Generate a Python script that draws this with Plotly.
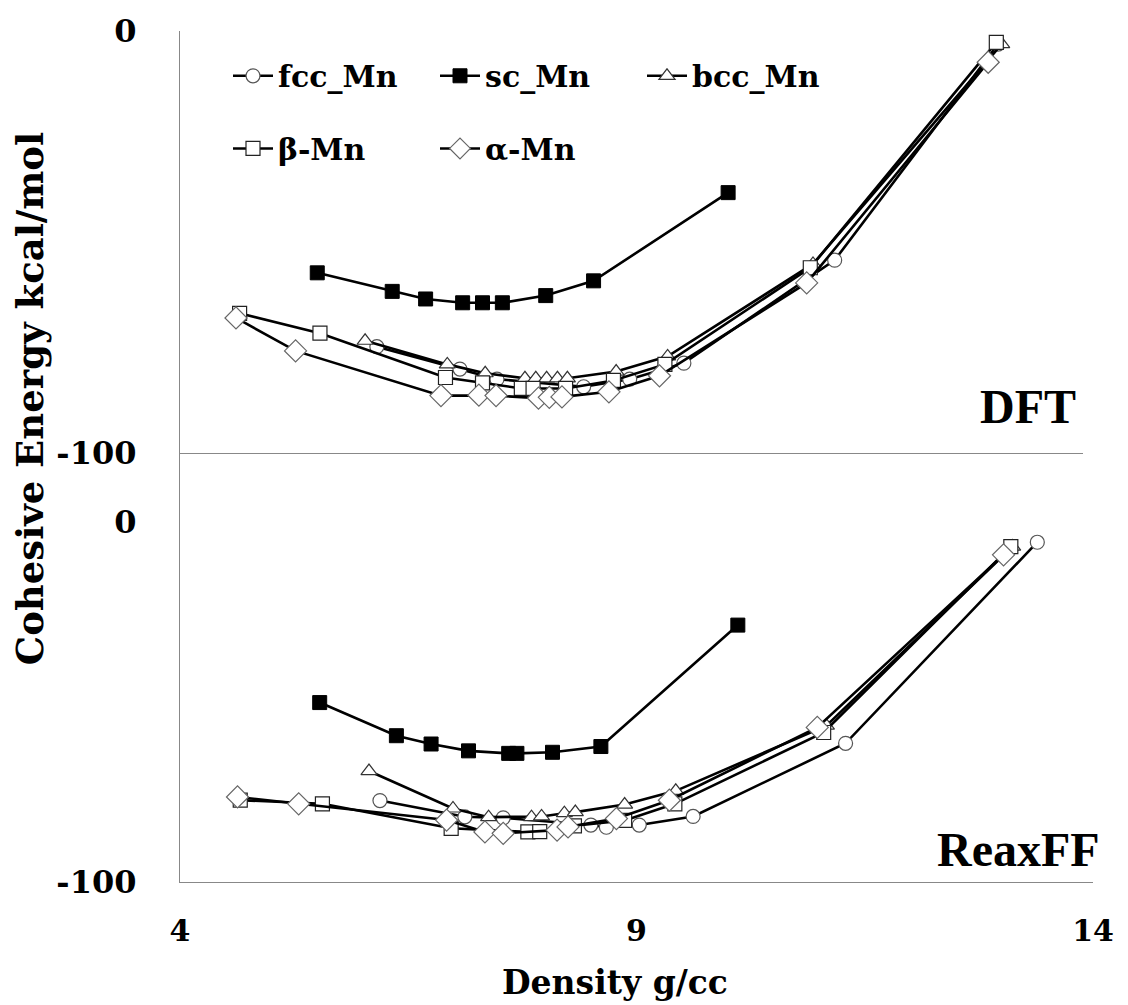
import plotly.graph_objects as go

# ---------------- data ----------------
series_names = ["fcc_Mn", "sc_Mn", "bcc_Mn", "β-Mn", "α-Mn"]

# DFT panel (top)
dft_fcc_x = [6.18, 7.10, 7.51, 8.47, 8.98, 9.58, 11.25, 13.06]
dft_fcc_y = [-74.8, -80.1, -82.5, -84.3, -82.5, -78.7, -54.3, -3.1]
dft_sc_x = [5.52, 6.35, 6.72, 7.13, 7.35, 7.57, 8.05, 8.58, 10.07]
dft_sc_y = [-57.3, -61.7, -63.5, -64.4, -64.4, -64.4, -62.7, -59.2, -38.3]
dft_bcc_x = [6.05, 6.96, 7.38, 7.82, 7.94, 8.06, 8.18, 8.29, 8.83, 9.40, 11.01, 13.10]
dft_bcc_y = [-73.4, -79.0, -81.1, -82.3, -82.3, -82.3, -82.3, -82.3, -80.7, -77.1, -55.2, -3.1]
dft_beta_x = [4.66, 5.55, 6.94, 7.35, 7.78, 7.91, 8.27, 8.80, 9.37, 10.98, 13.04]
dft_beta_y = [-66.9, -71.6, -82.1, -83.4, -84.7, -84.7, -84.7, -82.8, -79.0, -56.1, -2.7]
dft_alpha_x = [4.62, 5.28, 6.89, 7.31, 7.50, 7.97, 8.09, 8.23, 8.75, 9.31, 10.94, 12.95]
dft_alpha_y = [-68.0, -75.8, -86.4, -86.3, -86.4, -87.0, -86.8, -86.7, -85.5, -81.7, -59.7, -7.4]

# ReaxFF panel (bottom)
rx_fcc_x = [6.19, 7.12, 7.54, 8.50, 8.67, 9.03, 9.62, 11.29, 13.39]
rx_fcc_y = [-77.4, -81.9, -82.2, -84.2, -84.8, -84.2, -81.8, -61.5, -5.7]
rx_sc_x = [5.53, 6.37, 6.75, 7.16, 7.60, 7.69, 8.08, 8.61, 10.11]
rx_sc_y = [-50.2, -59.4, -61.7, -63.6, -64.3, -64.3, -64.0, -62.4, -28.7]
rx_bcc_x = [6.07, 6.99, 7.38, 7.85, 7.96, 8.21, 8.33, 8.87, 9.43, 11.08, 13.12]
rx_bcc_y = [-69.2, -79.6, -82.0, -82.0, -81.8, -80.9, -80.6, -78.5, -74.7, -56.6, -6.9]
rx_beta_x = [4.66, 5.56, 6.97, 7.81, 7.94, 8.32, 8.87, 9.42, 11.05, 13.10]
rx_beta_y = [-77.3, -78.3, -85.1, -86.1, -86.0, -84.4, -82.9, -78.3, -58.5, -6.9]
rx_alpha_x = [4.63, 5.30, 6.92, 7.34, 7.54, 8.13, 8.25, 8.78, 9.36, 10.98, 13.02]
rx_alpha_y = [-76.4, -78.3, -82.8, -86.1, -86.5, -85.6, -84.7, -82.4, -77.3, -57.1, -9.2]

x_tick_vals = [4, 9, 14]
x_tick_text = ["4", "9", "14"]
y_tick_vals = [-100, 0]
y_tick_text = ["-100", "0"]

# ---------------- styles ----------------
styles = {
    "fcc_Mn": dict(symbol="circle", size=14, color="white", line=dict(color="#555555", width=1.2)),
    "sc_Mn": dict(symbol="square", size=14, color="black", line=dict(color="black", width=1)),
    "bcc_Mn": dict(symbol="triangle-up", size=14, color="white", line=dict(color="#333333", width=1.2)),
    "β-Mn": dict(symbol="square", size=14, color="white", line=dict(color="#222222", width=1.2)),
    "α-Mn": dict(symbol="diamond", size=17, color="white", line=dict(color="#666666", width=1.2)),
}

dft = {
    "fcc_Mn": (dft_fcc_x, dft_fcc_y),
    "sc_Mn": (dft_sc_x, dft_sc_y),
    "bcc_Mn": (dft_bcc_x, dft_bcc_y),
    "β-Mn": (dft_beta_x, dft_beta_y),
    "α-Mn": (dft_alpha_x, dft_alpha_y),
}
rx = {
    "fcc_Mn": (rx_fcc_x, rx_fcc_y),
    "sc_Mn": (rx_sc_x, rx_sc_y),
    "bcc_Mn": (rx_bcc_x, rx_bcc_y),
    "β-Mn": (rx_beta_x, rx_beta_y),
    "α-Mn": (rx_alpha_x, rx_alpha_y),
}

fig = go.Figure()

for i, name in enumerate(series_names):
    x, y = dft[name]
    fig.add_trace(go.Scatter(
        x=x, y=y, mode="lines+markers", name=name,
        xaxis="x2", yaxis="y2",
        line=dict(color="black", width=2.6),
        marker=styles[name],
        legend="legend" if i < 3 else "legend2",
    ))

for name in series_names:
    x, y = rx[name]
    fig.add_trace(go.Scatter(
        x=x, y=y, mode="lines+markers", name=name,
        xaxis="x", yaxis="y", showlegend=False,
        line=dict(color="black", width=2.6),
        marker=styles[name],
    ))

W, H = 1128, 1005
L, R, T, B = 180, 35, 27, 123
pw = W - L - R
ph = H - T - B
split = (882 - 451) / ph

num_font = dict(family="DejaVu Serif", size=32, color="black", weight="bold")
legend_font = dict(family="DejaVu Serif", size=30, color="black", weight="bold")
axis_line = "#888888"

fig.update_layout(
    width=W, height=H,
    margin=dict(l=L, r=R, t=T, b=B),
    paper_bgcolor="white", plot_bgcolor="white",
    xaxis=dict(domain=[0, 1], range=[4, 14], anchor="y",
               showline=True, linecolor=axis_line, linewidth=1.3,
               showgrid=False, zeroline=False, ticks="",
               tickvals=x_tick_vals, ticktext=x_tick_text,
               tickfont=dict(family="DejaVu Serif", size=30, color="black", weight="bold"),
               ticklabelstandoff=22),
    yaxis=dict(domain=[0, split], range=[-100, 19.06], anchor="x",
               showline=True, linecolor=axis_line, linewidth=1.3,
               showgrid=False, zeroline=False, ticks="",
               tickvals=y_tick_vals, ticktext=y_tick_text,
               tickfont=num_font, ticklabelstandoff=36),
    xaxis2=dict(domain=[0, (1083 - L) / pw], range=[4, 14], anchor="y2",
                showline=True, linecolor=axis_line, linewidth=1.3,
                showgrid=False, zeroline=False, ticks="", showticklabels=False),
    yaxis2=dict(domain=[split, 1], range=[-100, 0], anchor="x2",
                showline=True, linecolor=axis_line, linewidth=1.3,
                showgrid=False, zeroline=False, ticks="",
                tickvals=y_tick_vals, ticktext=y_tick_text,
                tickfont=num_font, ticklabelstandoff=36),
    legend=dict(orientation="h", x=(228 - L) / pw, xanchor="left",
                y=(882 - 72) / ph, yanchor="middle",
                entrywidth=152, entrywidthmode="pixels",
                font=legend_font,
                bgcolor="rgba(0,0,0,0)", borderwidth=0, itemwidth=40),
    legend2=dict(orientation="h", x=(228 - L) / pw, xanchor="left",
                 y=(882 - 145) / ph, yanchor="middle",
                 entrywidth=152, entrywidthmode="pixels",
                 font=legend_font,
                 bgcolor="rgba(0,0,0,0)", borderwidth=0, itemwidth=40),
    showlegend=True,
)

annotations = [
    dict(text="DFT", xref="paper", yref="paper", x=(1078 - L) / pw, y=(882 - 404) / ph,
         xanchor="right", yanchor="middle", showarrow=False,
         font=dict(family="Liberation Serif", size=48, color="black", weight="bold")),
    dict(text="ReaxFF", xref="paper", yref="paper", x=(1102 - L) / pw, y=(882 - 849) / ph,
         xanchor="right", yanchor="middle", showarrow=False,
         font=dict(family="Liberation Serif", size=48, color="black", weight="bold")),
    dict(text="Cohesive Energy kcal/mol", xref="paper", yref="paper",
         x=(30 - L) / pw, y=(882 - 397) / ph, textangle=-90,
         xanchor="center", yanchor="middle", showarrow=False,
         font=dict(family="DejaVu Serif", size=37, color="black", weight="bold")),
    dict(text="Density g/cc", xref="paper", yref="paper",
         x=(615 - L) / pw, y=(882 - 983) / ph,
         xanchor="center", yanchor="middle", showarrow=False,
         font=dict(family="DejaVu Serif", size=33, color="black", weight="bold")),
]
fig.update_layout(annotations=annotations)

fig.write_html("out.html")
